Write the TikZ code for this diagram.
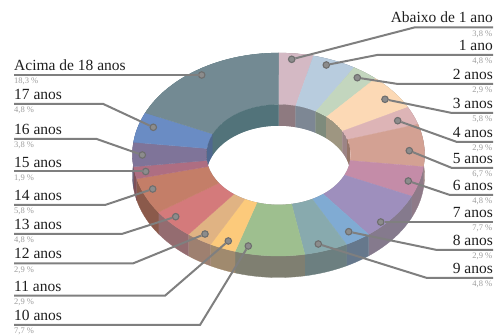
\documentclass[tikz,border=0pt]{standalone}
\usepackage{fontspec}
\setmainfont{Liberation Serif}
% top face colours
\definecolor{t0}{HTML}{D4B9C4}\definecolor{t1}{HTML}{B8CCDE}\definecolor{t2}{HTML}{C3D6BE}
\definecolor{t3}{HTML}{FCD9B5}\definecolor{t4}{HTML}{DDB4B6}\definecolor{t5}{HTML}{D3A193}
\definecolor{t6}{HTML}{C48CA8}\definecolor{t7}{HTML}{9E8FBD}\definecolor{t8}{HTML}{80ABD3}
\definecolor{t9}{HTML}{88AAAE}\definecolor{t10}{HTML}{9EBF8F}\definecolor{t11}{HTML}{FCCA7B}
\definecolor{t12}{HTML}{E0B383}\definecolor{t13}{HTML}{D47A7B}\definecolor{t14}{HTML}{C47E68}
\definecolor{t15}{HTML}{AE6E82}\definecolor{t16}{HTML}{7F7499}\definecolor{t17}{HTML}{6A8CC4}
\definecolor{t18}{HTML}{738A93}
% outer side colours
\definecolor{s0}{HTML}{8E7A80}\definecolor{s1}{HTML}{7D8794}\definecolor{s2}{HTML}{7E8B7C}
\definecolor{s3}{HTML}{9E9681}\definecolor{s4}{HTML}{9C8486}\definecolor{s5}{HTML}{927570}
\definecolor{s6}{HTML}{8E7A88}\definecolor{s7}{HTML}{857A8D}\definecolor{s8}{HTML}{66788C}
\definecolor{s9}{HTML}{6C7F80}\definecolor{s10}{HTML}{7F7F71}\definecolor{s11}{HTML}{A08A6E}
\definecolor{s12}{HTML}{9E8070}\definecolor{s13}{HTML}{946C70}\definecolor{s14}{HTML}{8B5A4B}
\definecolor{s15}{HTML}{7E5058}\definecolor{s16}{HTML}{5E566F}\definecolor{s17}{HTML}{4F6890}
\definecolor{s18}{HTML}{52737A}
% inner wall colours
\definecolor{i0}{HTML}{8E7A80}\definecolor{i1}{HTML}{7D8794}\definecolor{i2}{HTML}{7E8B7C}
\definecolor{i3}{HTML}{9E9681}\definecolor{i4}{HTML}{9C8486}\definecolor{i5}{HTML}{967568}
\definecolor{i6}{HTML}{8E7A88}\definecolor{i7}{HTML}{857A8D}\definecolor{i8}{HTML}{66788C}
\definecolor{i9}{HTML}{6C7F80}\definecolor{i10}{HTML}{7F7F71}\definecolor{i11}{HTML}{A08A6E}
\definecolor{i12}{HTML}{9E8070}\definecolor{i13}{HTML}{946C70}\definecolor{i14}{HTML}{8B5A4B}
\definecolor{i15}{HTML}{7A5060}\definecolor{i16}{HTML}{5E5870}\definecolor{i17}{HTML}{4F6890}
\definecolor{i18}{HTML}{52737A}
\definecolor{ldgray}{HTML}{7F7F7F}
\definecolor{dotring}{HTML}{6E6E6E}
\definecolor{dotfill}{HTML}{8C8C8C}
\definecolor{pctgray}{HTML}{9C9C9C}
\definecolor{labtext}{HTML}{1E1E1E}
\begin{document}
\begin{tikzpicture}[x=1pt,y=-1pt,
  lead/.style={draw=ldgray, line width=2pt},
  dotc/.style={circle, fill=dotfill, draw=dotring, line width=1.1pt, minimum size=6.5pt, inner sep=0pt},
  lab/.style={font=\fontsize{15.5}{16}\selectfont, text=labtext, inner sep=0pt},
  pct/.style={font=\fontsize{8.5}{9}\selectfont, text=pctgray, inner sep=0pt}]
\useasboundingbox (0,0) rectangle (495,336);
\def\cx{278.5}\def\cy{154.5}\def\rx{146}\def\ry{101.5}\def\ix{72}\def\iy{50}\def\dd{21.5}
\def\slices{0/4/0, 4/9/1, 9/12/2, 12/18/3, 18/21/4, 21/28/5, 28/33/6, 33/41/7, 41/44/8, 44/49/9, 49/57/10, 57/60/11, 60/63/12, 63/68/13, 68/74/14, 74/76/15, 76/80/16, 80/85/17, 85/104/18}
% outer side walls
\foreach \s/\e/\n in \slices {
  \pgfmathsetmacro\angA{\s/104*360}\pgfmathsetmacro\angB{\e/104*360}
  \filldraw[fill=s\n, draw=s\n, line width=0.3pt]
    plot[domain=\angA:\angB,samples=30] ({\cx+\rx*sin(\x)},{\cy-\ry*cos(\x)})
    -- plot[domain=\angB:\angA,samples=30] ({\cx+\rx*sin(\x)},{\cy+\dd-\ry*cos(\x)}) -- cycle;
}
% top face
\foreach \s/\e/\n in \slices {
  \pgfmathsetmacro\angA{\s/104*360}\pgfmathsetmacro\angB{\e/104*360}
  \filldraw[fill=t\n, draw=t\n, line width=0.3pt]
    plot[domain=\angA:\angB,samples=30] ({\cx+\rx*sin(\x)},{\cy-\ry*cos(\x)})
    -- plot[domain=\angB:\angA,samples=30] ({\cx+\ix*sin(\x)},{\cy-\iy*cos(\x)}) -- cycle;
}
% hole with inner wall
\begin{scope}
  \clip (\cx,\cy) ellipse [x radius=\ix, y radius=\iy];
  \foreach \s/\e/\n in \slices {
    \pgfmathsetmacro\angA{\s/104*360}\pgfmathsetmacro\angB{\e/104*360}
    \filldraw[fill=i\n, draw=i\n, line width=0.3pt]
      plot[domain=\angA:\angB,samples=30] ({\cx+\ix*sin(\x)},{\cy-\iy*cos(\x)})
      -- plot[domain=\angB:\angA,samples=30] ({\cx+\ix*sin(\x)},{\cy+\dd-\iy*cos(\x)}) -- cycle;
  }
  \fill[white] (\cx,\cy+\dd) ellipse [x radius=\ix, y radius=\iy];
\end{scope}

% dots
\node[dotc] (d0) at (291.7,59.3) {};
\node[dotc] (d1) at (326.3,65) {};
\node[dotc] (d2) at (357.3,77.7) {};
\node[dotc] (d3) at (385,99.3) {};
\node[dotc] (d4) at (397.7,120.7) {};
\node[dotc] (d5) at (409.3,150.7) {};
\node[dotc] (d6) at (408.3,181) {};
\node[dotc] (d7) at (380.7,222) {};
\node[dotc] (d8) at (348.7,231.7) {};
\node[dotc] (d9) at (318.3,244) {};
\node[dotc] (d10) at (248.3,246) {};
\node[dotc] (d11) at (228.3,241) {};
\node[dotc] (d12) at (205,234) {};
\node[dotc] (d13) at (175.7,216.7) {};
\node[dotc] (d14) at (152.7,189) {};
\node[dotc] (d15) at (145.7,171.5) {};
\node[dotc] (d16) at (142.3,155) {};
\node[dotc] (d17) at (153.3,127.3) {};
\node[dotc] (d18) at (201.7,75) {};

% right labels
\foreach \n/\ex/\uy/\txt/\pc in {
  0/415/27.3/Abaixo de 1 ano/{3,8 \%},
  1/377/55/1 ano/{4,8 \%},
  2/398/84/2 anos/{2,9 \%},
  3/452/113/3 anos/{5,8 \%},
  4/457/142/4 anos/{2,9 \%},
  5/452/168/5 anos/{6,7 \%},
  6/450/195/6 anos/{4,8 \%},
  7/385/222/7 anos/{7,7 \%},
  8/437/250/8 anos/{2,9 \%},
  9/427/278/9 anos/{4,8 \%}} {
  \coordinate (e\n) at (\ex,\uy);
  \coordinate (u\n) at (493,\uy);
  \node[lab, anchor=base east] (L\n) at (493,\uy-4.3) {\txt};
  \node[pct, anchor=base east] (P\n) at (492.5,\uy+9) {\pc};
  \draw[lead] (d\n) -- (e\n) -- (u\n);
}
% left labels
\foreach \n/\ex/\uy/\txt/\pc in {
  18/199/75/Acima de 18 anos/{18,3 \%},
  17/103.3/104/17 anos/{4,8 \%},
  16/96.7/139/16 anos/{3,8 \%},
  15/143/171.5/15 anos/{1,9 \%},
  14/105/205/14 anos/{5,8 \%},
  13/121.7/234/13 anos/{4,8 \%},
  12/133.3/263.3/12 anos/{2,9 \%},
  11/165/295.7/11 anos/{2,9 \%},
  10/200/325/10 anos/{7,7 \%}} {
  \coordinate (e\n) at (\ex,\uy);
  \coordinate (u\n) at (14,\uy);
  \node[lab, anchor=base west] (L\n) at (14,\uy-4.3) {\txt};
  \node[pct, anchor=base west] (P\n) at (14,\uy+9) {\pc};
  \draw[lead] (d\n) -- (e\n) -- (u\n);
}
\end{tikzpicture}
\end{document}
